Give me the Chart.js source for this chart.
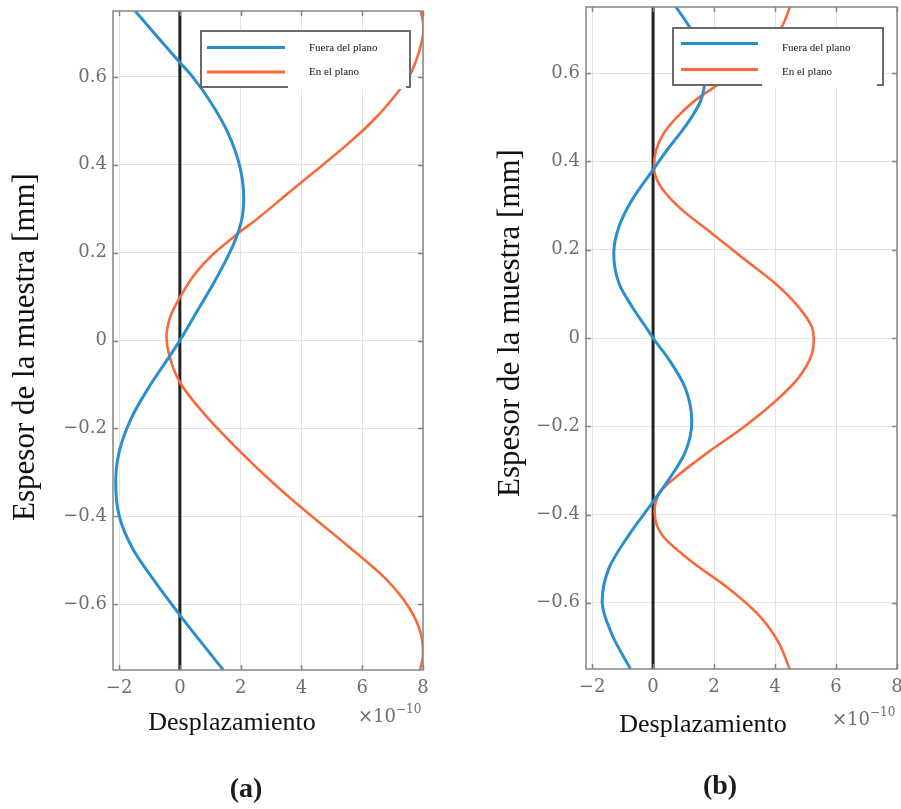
<!DOCTYPE html>
<html>
<head>
<meta charset="utf-8">
<script src="https://cdn.jsdelivr.net/npm/chart.js@4.4.1/dist/chart.umd.min.js"></script>
<style>
  html, body { margin: 0; padding: 0; background: #fff; overflow: hidden; }
  #wrap { position: relative; width: 901px; height: 809px; }
  canvas { position: absolute; left: 0; top: 0; }
</style>
</head>
<body>
<div id="wrap">
  <canvas id="chartA" width="901" height="809"></canvas>
  <canvas id="chartB" width="901" height="809"></canvas>
</div>
<script>
"use strict";

// Perfil de desplazamiento a lo largo del espesor, dos modos (a) y (b)
const xTicks = [-2, 0, 2, 4, 6, 8];
const yTicks = [-0.6, -0.4, -0.2, 0, 0.2, 0.4, 0.6];
const seriesNames = ["Fuera del plano", "En el plano"];
const xTitle = "Desplazamiento";
const yTitle = "Espesor de la muestra [mm]";
const panelTags = ["(a)", "(b)"];

// filas: [espesor (mm), desplazamiento (×1e-10)]
const fueraA = [
  [0.75, -1.47], [0.70, -0.85], [0.633, 0], [0.60, 0.42], [0.545, 0.99],
  [0.47, 1.60], [0.394, 1.98], [0.326, 2.10], [0.28, 2.05], [0.243, 1.90],
  [0.197, 1.62], [0.129, 1.10], [0.068, 0.58], [0, 0], [-0.034, -0.32],
  [-0.102, -0.98], [-0.177, -1.60], [-0.254, -2.0], [-0.323, -2.11],
  [-0.398, -2.0], [-0.473, -1.56], [-0.549, -0.82], [-0.625, 0],
  [-0.686, 0.69], [-0.75, 1.43],
];
const enPlanoA = [
  [0.75, 7.93], [0.71, 8.02], [0.66, 7.88], [0.598, 7.52], [0.568, 7.2],
  [0.507, 6.45], [0.455, 5.65], [0.394, 4.60], [0.333, 3.52], [0.28, 2.6],
  [0.243, 1.90], [0.197, 1.1], [0.152, 0.5], [0.098, 0], [0.053, -0.32],
  [0.008, -0.44], [-0.034, -0.35], [-0.095, 0], [-0.163, 0.75],
  [-0.254, 2.0], [-0.33, 3.16], [-0.398, 4.3], [-0.466, 5.5],
  [-0.541, 6.75], [-0.609, 7.55], [-0.67, 7.94], [-0.716, 8.0], [-0.75, 7.9],
];
const fueraB = [
  [0.75, 0.75], [0.705, 1.19], [0.65, 1.55], [0.59, 1.70], [0.539, 1.57],
  [0.501, 1.27], [0.464, 0.89], [0.426, 0.46], [0.381, 0], [0.313, -0.69],
  [0.252, -1.12], [0.192, -1.29], [0.124, -1.12], [0.071, -0.69],
  [0.026, -0.25], [0, 0], [-0.054, 0.57], [-0.114, 1.06], [-0.19, 1.27],
  [-0.258, 1.06], [-0.31, 0.62], [-0.371, 0], [-0.446, -0.79],
  [-0.522, -1.45], [-0.597, -1.67], [-0.673, -1.34], [-0.75, -0.74],
];
const enPlanoB = [
  [0.75, 4.49], [0.705, 4.22], [0.66, 3.75], [0.62, 2.95], [0.573, 2.1],
  [0.539, 1.39], [0.501, 0.79], [0.464, 0.35], [0.426, 0.10], [0.388, 0.03],
  [0.35, 0.19], [0.297, 0.84], [0.237, 1.93], [0.177, 3.02], [0.124, 4.0],
  [0.071, 4.76], [0.026, 5.2], [0, 5.27], [-0.038, 5.2], [-0.091, 4.76],
  [-0.144, 4.0], [-0.205, 2.91], [-0.258, 1.82], [-0.31, 0.84],
  [-0.348, 0.24], [-0.393, 0.05], [-0.446, 0.29], [-0.507, 1.27],
  [-0.567, 2.47], [-0.627, 3.45], [-0.688, 4.1], [-0.75, 4.48],
];

const C = {
  blue: "#2a8ecf", orange: "#f86a3c", zero: "#222",
  grid: "#e4e4e4", frame: "#858585", tick: "#6e6e6e",
  legendBorder: "#6a6a6a", text: "#111",
};
const TICK_FONT = "'DejaVu Serif', serif";
const SERIF = "'Liberation Serif', 'Times New Roman', serif";

const toPts = (rows) => rows.map(([y, x]) => ({ x, y }));
const fmt = (v) => (v < 0 ? "\u2212" + Math.abs(v) : String(v));

// marco tipo MATLAB, marcas hacia dentro, leyenda y textos
const decor = {
  id: "decor",
  afterDatasetsDraw(chart, args, o) {
    const { ctx, chartArea: a, scales: { x, y } } = chart;
    ctx.save();
    ctx.strokeStyle = C.frame;
    ctx.lineWidth = 1.5;
    ctx.strokeRect(a.left, a.top, a.right - a.left, a.bottom - a.top);
    ctx.beginPath();
    xTicks.forEach((v) => {
      const px = Math.round(x.getPixelForValue(v)) + 0.5;
      ctx.moveTo(px, a.bottom); ctx.lineTo(px, a.bottom - 5);
      ctx.moveTo(px, a.top); ctx.lineTo(px, a.top + 5);
    });
    yTicks.forEach((v) => {
      const py = Math.round(y.getPixelForValue(v)) + 0.5;
      ctx.moveTo(a.left, py); ctx.lineTo(a.left + 5, py);
      ctx.moveTo(a.right, py); ctx.lineTo(a.right - 5, py);
    });
    ctx.stroke();

    // leyenda
    const L = o.legend;
    const [l, t, r, b] = L.box;
    ctx.fillStyle = "#fff";
    ctx.fillRect(l, t, r - l, b - t);
    ctx.strokeStyle = C.legendBorder;
    ctx.lineWidth = 2;
    ctx.strokeRect(l, t, r - l, b - t);
    const [ml, mt, mr, mb] = L.mask;
    ctx.fillRect(ml, mt, mr - ml, mb - mt);
    chart.data.datasets.slice(0, 2).forEach((ds, i) => {
      ctx.strokeStyle = ds.borderColor;
      ctx.lineWidth = 3;
      ctx.beginPath();
      ctx.moveTo(L.line[0], L.rows[i]);
      ctx.lineTo(L.line[1], L.rows[i]);
      ctx.stroke();
      ctx.fillStyle = C.text;
      ctx.font = "11px " + SERIF;
      ctx.textBaseline = "middle";
      ctx.textAlign = "left";
      ctx.fillText(ds.label, L.textX, L.textRows[i]);
    });
    ctx.restore();
  },
  afterDraw(chart, args, o) {
    const { ctx } = chart;
    ctx.save();
    ctx.fillStyle = C.text;
    ctx.textAlign = "center";
    ctx.textBaseline = "alphabetic";
    ctx.font = "26px " + SERIF;
    ctx.fillText(xTitle, o.xTitle[0], o.xTitle[1]);

    ctx.save();
    ctx.translate(o.yTitle[0], o.yTitle[1]);
    ctx.rotate(-Math.PI / 2);
    ctx.font = "31px " + SERIF;
    ctx.fillText(yTitle, 0, 0);
    ctx.restore();

    // factor de escala del eje x
    ctx.fillStyle = C.tick;
    ctx.textAlign = "left";
    ctx.font = "18px " + TICK_FONT;
    ctx.fillText("\u00d710", o.exp[0], o.exp[1]);
    const w = ctx.measureText("\u00d710").width;
    ctx.font = "12px " + TICK_FONT;
    ctx.fillText("\u221210", o.exp[0] + w, o.exp[1] - 9);

    ctx.fillStyle = "#1c1c1c";
    ctx.textAlign = "center";
    ctx.textBaseline = "middle";
    ctx.font = "bold 28px " + SERIF;
    ctx.fillText(o.tag, o.tagPos[0], o.tagPos[1]);
    ctx.restore();
  },
};

function panel(id, fuera, enPlano, area, deco) {
  const Y_W = 100, X_H = 60;
  return new Chart(document.getElementById(id), {
    type: "line",
    data: {
      datasets: [
        { label: seriesNames[0], data: toPts(fuera), borderColor: C.blue, borderWidth: 3 },
        { label: seriesNames[1], data: toPts(enPlano), borderColor: C.orange, borderWidth: 2.6 },
        { label: "cero", data: [{ x: 0, y: -0.75 }, { x: 0, y: 0.75 }],
          borderColor: C.zero, borderWidth: 3 },
      ],
    },
    options: {
      indexAxis: "y",
      responsive: false,
      animation: false,
      events: [],
      layout: { padding: {
        left: area.l - Y_W, right: 901 - area.r, top: area.t, bottom: 809 - area.b - X_H,
      } },
      elements: { point: { radius: 0 }, line: { cubicInterpolationMode: "monotone", fill: false } },
      plugins: { legend: { display: false }, tooltip: { enabled: false }, decor: deco },
      scales: {
        x: {
          type: "linear", min: -2.2, max: 8,
          afterBuildTicks: (s) => { s.ticks = xTicks.map((value) => ({ value })); },
          afterFit: (s) => { s.height = X_H; s.paddingLeft = 0; s.paddingRight = 0; },
          grid: { color: C.grid, lineWidth: 1, drawTicks: false },
          border: { display: false },
          ticks: { color: C.tick, padding: 8, maxRotation: 0, autoSkip: false,
                   font: { family: TICK_FONT, size: 18 }, callback: fmt },
        },
        y: {
          type: "linear", min: -0.75, max: 0.75,
          afterBuildTicks: (s) => { s.ticks = yTicks.map((value) => ({ value })); },
          afterFit: (s) => { s.width = Y_W; s.paddingTop = 0; s.paddingBottom = 0; },
          grid: { color: C.grid, lineWidth: 1, drawTicks: false },
          border: { display: false },
          ticks: { color: C.tick, padding: 6, autoSkip: false,
                   font: { family: TICK_FONT, size: 18 }, callback: fmt },
        },
      },
    },
    plugins: [decor],
  });
}

panel("chartA", fueraA, enPlanoA, { l: 113, r: 423, t: 11, b: 670 }, {
  legend: { box: [201, 31, 410, 87], mask: [288, 34, 406, 89], line: [207, 285],
            rows: [47.5, 72], textX: 309, textRows: [48, 72.5] },
  xTitle: [232, 730], yTitle: [34, 347], exp: [358, 722],
  tag: panelTags[0], tagPos: [246, 790],
});

panel("chartB", fueraB, enPlanoB, { l: 586, r: 897, t: 7, b: 669 }, {
  legend: { box: [673, 28, 883, 85], mask: [762, 34, 877, 88], line: [681, 758],
            rows: [43.5, 69.5], textX: 782, textRows: [48.5, 72.5] },
  xTitle: [703, 732], yTitle: [519, 323], exp: [832, 725],
  tag: panelTags[1], tagPos: [720, 787],
});
</script>
</body>
</html>
